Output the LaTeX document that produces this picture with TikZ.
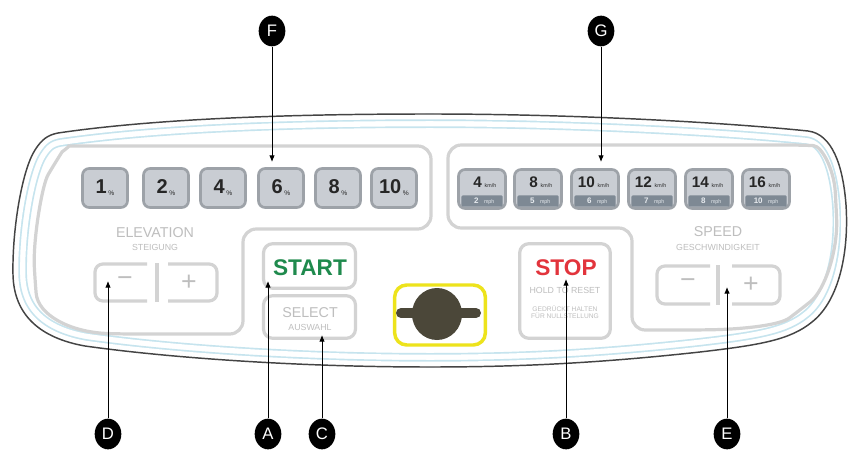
\documentclass[tikz,border=0pt]{standalone}
\usepackage{fontspec}
\setmainfont{Liberation Sans}
\usetikzlibrary{shapes.geometric,arrows.meta}
\definecolor{outl}{HTML}{444444}
\definecolor{ltblue}{HTML}{C6E4EE}
\definecolor{grpgray}{HTML}{D3D3D3}
\definecolor{btnfill}{HTML}{C9CDD3}
\definecolor{btnedge}{HTML}{9DA2A8}
\definecolor{stripfill}{HTML}{7E8994}
\definecolor{striptxt}{HTML}{E6EAEE}
\definecolor{lbltxt}{HTML}{BEBEBE}
\definecolor{digit}{HTML}{262626}
\definecolor{startgreen}{HTML}{1F8A4D}
\definecolor{stopred}{HTML}{E2343C}
\definecolor{keyyellow}{HTML}{EDE31C}
\definecolor{keydark}{HTML}{4B4739}
\tikzset{
  grp/.style={draw=grpgray, line width=2.4pt},
  ebtn/.style={draw=btnedge, fill=btnfill, line width=2pt, rounded corners=5pt,
    minimum width=33.75pt, minimum height=29.25pt, inner sep=0pt, text=digit},
  sbtn/.style={draw=btnedge, fill=btnfill, line width=2pt, rounded corners=5pt,
    minimum width=35.25pt, minimum height=29.25pt, inner sep=0pt},
  strip/.style={fill=stripfill, minimum width=31pt, minimum height=8.5pt, inner sep=0pt,
    text=striptxt, rounded corners=1pt},
  stxt/.style={inner sep=0pt, text=digit},
  panelbtn/.style={draw=grpgray, fill=white, line width=2.4pt, rounded corners=7pt, inner sep=0pt},
  lbl/.style={text=lbltxt, inner sep=0pt, font=\fontsize{10.7}{11}\selectfont},
  sublbl/.style={text=lbltxt, inner sep=0pt, font=\fontsize{6.6}{7}\selectfont},
  tinylbl/.style={text=lbltxt, inner sep=0pt, font=\fontsize{5}{5.5}\selectfont},
  pm/.style={draw=grpgray, line width=2.4pt, rounded corners=6pt},
  pmsym/.style={text=lbltxt, inner sep=0pt, font=\fontsize{20}{20}\selectfont},
  callout/.style={ellipse, fill=black, minimum width=20pt, minimum height=23pt, inner sep=0pt,
    text=white, font=\fontsize{12.5}{12.5}\selectfont},
  callarrow/.style={draw=black, line width=0.7pt, -{Latex[length=5pt,width=4.2pt]}},
}
\newcommand{\edig}[1]{{\fontsize{15}{15}\selectfont\bfseries #1}\kern1.2pt\raisebox{-1.5pt}{\fontsize{5}{5}\selectfont\%}}
\newcommand{\kmh}[1]{\makebox[15pt][r]{\fontsize{11.5}{11.5}\selectfont\bfseries #1}\kern2pt\makebox[13pt][l]{\fontsize{4}{4}\selectfont km/h}}
\newcommand{\mph}[1]{\makebox[11pt][r]{\fontsize{6}{6}\selectfont\bfseries #1}\kern4pt\makebox[12pt][l]{\fontsize{4}{4}\selectfont mph}}
\begin{document}
\begin{tikzpicture}[x=0.75pt,y=-0.75pt]
\useasboundingbox (0,0) rectangle (855,452);
\fill[white] (0,0) rectangle (855,452);
% outer panel outline
\path[save path=\outlpath] (58,133) .. controls (160,118) and (300,114) .. (430,114)
  .. controls (570,114) and (720,122) .. (808,131)
  .. controls (832,134) and (843,165) .. (846,205)
  .. controls (849,250) and (840,300) .. (812,322)
  .. controls (790,340) and (760,345) .. (700,352)
  .. controls (600,363) and (520,367) .. (430,367)
  .. controls (300,367) and (170,358) .. (85,346)
  .. controls (40,338) and (14,315) .. (13,275)
  .. controls (12,230) and (22,170) .. (35,150)
  .. controls (42,139) and (48,135) .. (58,133) -- cycle;
\begin{scope}
  \clip[use path=\outlpath];
  \draw[ltblue, line width=21pt, use path=\outlpath];
  \draw[white, line width=18.5pt, use path=\outlpath];
  \draw[ltblue, line width=10.5pt, use path=\outlpath];
  \draw[white, line width=8pt, use path=\outlpath];
\end{scope}
\draw[outl, line width=1.1pt, use path=\outlpath];
% group outlines
\draw[grp, rounded corners=10pt] (120,334) .. controls (70,332) and (38,315) .. (35,280)
  .. controls (33,240) and (42,185) .. (55,163) .. controls (62,152) and (70,146) .. (82,146)
  -- (431,146) -- (431,229) -- (243,229) -- (243,334) -- cycle;
\draw[grp, rounded corners=10pt] (700,330) .. controls (745,329) and (780,325) .. (800,310)
  .. controls (825,290) and (838,250) .. (836,205) .. controls (834,170) and (822,146) .. (800,145)
  -- (448,145) -- (448,228) -- (632,228) -- (632,330) -- cycle;
% elevation buttons
\node[ebtn] (e1) at (105,188) {\edig{1}};
\node[ebtn] (e2) at (166,188) {\edig{2}};
\node[ebtn] (e3) at (223,188) {\edig{4}};
\node[ebtn] (e4) at (281,188) {\edig{6}};
\node[ebtn] (e5) at (338,188) {\edig{8}};
\node[ebtn] (e6) at (394,188) {\edig{10}};
% speed buttons
\foreach \cx/\k/\m [count=\i] in {482/4/2, 538/8/5, 595/10/6, 652/12/7, 709/14/8, 766/16/10}{
  \node[sbtn] (s\i) at (\cx,189) {};
  \node[stxt] (sk\i) at (\cx,182) {\kmh{\k}};
  \node[strip] (sm\i) at (\cx,201) {\mph{\m}};
}
% labels
\node[lbl] (elev) at (155,233) {ELEVATION};
\node[sublbl] (steig) at (155,247) {STEIGUNG};
\node[lbl] (speed) at (718,232) {SPEED};
\node[sublbl] (gesch) at (718,247) {GESCHWINDIGKEIT};
% elevation -/+
\draw[pm] (147,264) -- (95,264) -- (95,301) -- (147,301);
\draw[pm] (157,263) -- (157,302);
\draw[pm] (168,264) -- (217,264) -- (217,301) -- (168,301);
\node[pmsym] (eminus) at (125,282) {−};
\node[pmsym] (eplus) at (189,283) {+};
% speed -/+
\draw[pm] (710,266) -- (657,266) -- (657,304) -- (710,304);
\draw[pm] (718,265) -- (718,305);
\draw[pm] (732,266) -- (780,266) -- (780,304) -- (732,304);
\node[pmsym] (sminus) at (688,284) {−};
\node[pmsym] (splus) at (751,285) {+};
% start / select
\node[panelbtn, minimum width=69pt, minimum height=33.5pt] (start) at (309.5,266) {};
\node[text=startgreen, inner sep=0pt, font=\fontsize{17}{17}\selectfont\bfseries] (starttxt) at (310,268) {START};
\node[panelbtn, minimum width=69pt, minimum height=32pt] (select) at (309.5,317) {};
\node[lbl] (seltxt) at (310,313) {SELECT};
\node[sublbl] (ausw) at (310,327) {AUSWAHL};
% stop
\node[panelbtn, minimum width=68pt, minimum height=71pt] (stop) at (565,291) {};
\node[text=stopred, inner sep=0pt, font=\fontsize{17}{17}\selectfont\bfseries] (stoptxt) at (566,268) {STOP};
\node[sublbl] (hold) at (565,290) {HOLD TO RESET};
\node[tinylbl, align=center] (gedr) at (565,312) {GEDRÜCKT HALTEN\\FÜR NULLSTELLUNG};
% key slot
\node[draw=keyyellow, fill=white, line width=2.6pt, rounded corners=9pt, minimum width=68pt, minimum height=45pt, inner sep=0pt] (key) at (440,315) {};
\draw[keydark, line width=7.5pt, line cap=round] (401,313) -- (476,313);
\node[ellipse, fill=keydark, minimum width=37.5pt, minimum height=39pt, inner sep=0pt] (keydisc) at (437,314) {};
% callouts
\node[callout] (F) at (272,31) {F};
\node[callout] (G) at (601,31) {G};
\node[callout] (D) at (108,434) {D};
\node[callout] (A) at (268,434) {A};
\node[callout] (C) at (322,434) {C};
\node[callout] (B) at (566,434) {B};
\node[callout] (E) at (727,434) {E};
\coordinate (fTip) at (272,162);
\coordinate (gTip) at (601,162);
\coordinate (dTip) at (108,281);
\coordinate (aTip) at (268,281);
\coordinate (cTip) at (322,335);
\coordinate (bTip) at (566,279);
\coordinate (eTip) at (727,287);
\draw[callarrow] (F) -- (fTip);
\draw[callarrow] (G) -- (gTip);
\draw[callarrow] (D) -- (dTip);
\draw[callarrow] (A) -- (aTip);
\draw[callarrow] (C) -- (cTip);
\draw[callarrow] (B) -- (bTip);
\draw[callarrow] (E) -- (eTip);
\end{tikzpicture}
\end{document}
